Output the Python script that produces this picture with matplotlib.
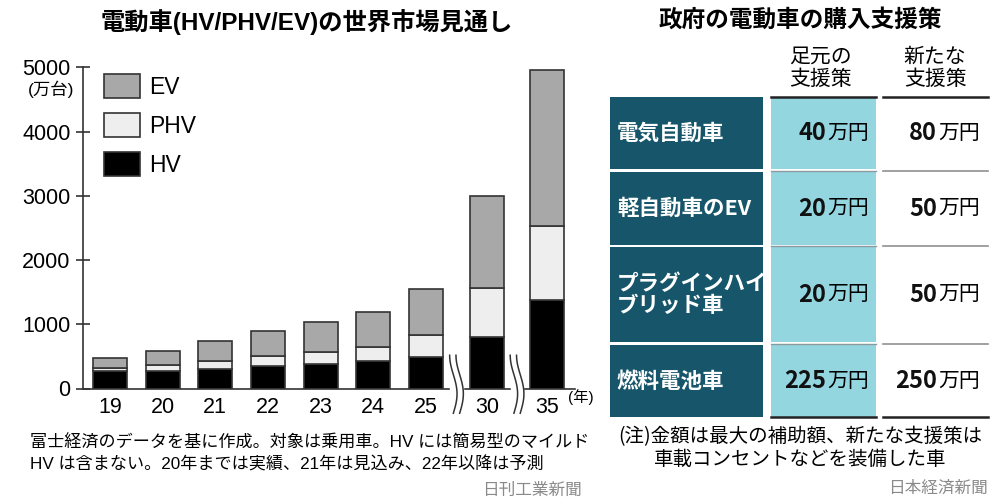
import numpy as np
import matplotlib
matplotlib.use("Agg")
from matplotlib import pyplot as plt
from matplotlib.patches import Rectangle

# 欧文はHelvetica風、和文はNotoで補う
plt.rcParams['font.family'] = ['Liberation Sans', 'Noto Sans CJK JP']
JP = ['Noto Sans CJK JP', 'DejaVu Sans']

# グラフのデータ(万台)
years = ['19', '20', '21', '22', '23', '24', '25', '30', '35']
hv = [265, 274, 311, 358, 389, 435, 492, 803, 1373]
phv = [50, 88, 124, 144, 176, 212, 342, 757, 1151]
ev = [161, 229, 305, 394, 471, 550, 721, 1431, 2437]

# 表のデータ(万円)
row_labels = ['電気自動車', '軽自動車のEV', 'プラグインハイ\nブリッド車', '燃料電池車']
current_aid = [40, 20, 20, 225]
new_aid = [80, 50, 50, 250]
col_headers = ['足元の\n支援策', '新たな\n支援策']

fig = plt.figure(figsize=(10, 5), dpi=100)

# 棒グラフ
ax = fig.add_axes([0.083, 0.223, 0.492, 0.642])
x = np.arange(len(years)) + np.array([0, 0, 0, 0, 0, 0, 0, 0.16, 0.30])
w = 0.645
edge = dict(edgecolor='#333333', linewidth=1.2)
b_hv = ax.bar(x, hv, w, color='black', label='HV', **edge)
b_phv = ax.bar(x, phv, w, bottom=hv, color='#eeeeee', label='PHV', **edge)
bot = np.array(hv) + np.array(phv)
b_ev = ax.bar(x, ev, w, bottom=bot, color='#a8a8a8', label='EV', **edge)

ax.set_xlim(-0.512, 8.83)
ax.set_ylim(0, 5000)
ax.set_xticks(x)
ax.set_xticklabels(years, fontsize=15.5)
ax.set_yticks([0, 1000, 2000, 3000, 4000, 5000])
ax.tick_params(axis='x', length=0, pad=6)
ax.tick_params(axis='y', direction='inout', length=10, width=1.2, colors='#333333',
               labelcolor='black', labelsize=15.5, pad=4)
for s in ['top', 'right']:
    ax.spines[s].set_visible(False)
for s in ['left', 'bottom']:
    ax.spines[s].set_color('#333333')
    ax.spines[s].set_linewidth(1.2)

# 省略記号(波線)
t = np.linspace(0, 1, 50)
yy = 518 - t * 903
for xm in [(x[6] + x[7]) / 2, (x[7] + x[8]) / 2]:
    ax.add_patch(Rectangle((xm - 0.12, -60), 0.24, 120, color='white', clip_on=False, zorder=4))
    for off in [-0.06, 0.06]:
        xx = xm + off + 0.07 * np.sin(1.5 * np.pi * t - 0.5 * np.pi)
        ax.plot(xx, yy, color='#333333', lw=1.1, clip_on=False, zorder=5)

ax.legend(handles=[b_ev, b_phv, b_hv], loc='upper left', bbox_to_anchor=(0.104, 1 - 74 / 500),
          bbox_transform=fig.transFigure, frameon=False, fontsize=16.5, borderpad=0,
          borderaxespad=0, handlelength=1.55, handleheight=1.25, labelspacing=0.62,
          handletextpad=0.4)

# 文字と表は全体を覆う軸に描く(1単位=1ピクセル)
tx = fig.add_axes([0, 0, 1, 1])
tx.set_xlim(0, 1000)
tx.set_ylim(500, 0)
tx.axis('off')

tx.text(307, 22, '電動車(HV/PHV/EV)の世界市場見通し', fontsize=17.5, fontweight='bold',
        ha='center', va='center')
tx.text(51, 89, '(万台)', fontsize=12.5, ha='center', va='center')
tx.text(581, 397, '(年)', fontsize=11, ha='center', va='center')
tx.text(30, 443, '富士経済のデータを基に作成。対象は乗用車。HV には簡易型のマイルド',
        fontsize=12.3, ha='left', va='center')
tx.text(30, 464, 'HV は含まない。20年までは実績、21年は見込み、22年以降は予測',
        fontsize=12.3, ha='left', va='center')
tx.text(582, 490, '日刊工業新聞', fontsize=12, ha='right', va='center', color='#8a8a8a')

# 表
tx.text(800, 20, '政府の電動車の購入支援策', fontsize=17, fontweight='bold',
        ha='center', va='center', family=JP)
tx.text(820, 68, col_headers[0], fontsize=15, ha='center', va='center', linespacing=1.05,
        family=JP)
tx.text(935, 68, col_headers[1], fontsize=15, ha='center', va='center', linespacing=1.05,
        family=JP)

dark = '#17566a'
cyan = '#94d6e0'
rows = [(97, 169), (172, 245), (247, 342), (345, 417)]
col1 = (610, 763)
col2 = (771, 876)
col3 = (883, 988)
for y0, y1 in rows:
    tx.add_patch(Rectangle((col1[0], y0), col1[1] - col1[0], y1 - y0, color=dark, lw=0))
    tx.add_patch(Rectangle((col2[0], y0), col2[1] - col2[0], y1 - y0, color=cyan, lw=0))
for y0, y1 in rows[1:]:
    tx.plot(col2, [y0 - 1.5, y0 - 1.5], color='#8a9aa0', lw=1)
    tx.plot(col3, [y0 - 1.5, y0 - 1.5], color='#909090', lw=1.2)
for yl in [97, 417]:
    tx.plot(col2, [yl, yl], color='#222222', lw=1.8)
    tx.plot(col3, [yl, yl], color='#222222', lw=1.8)

renderer = fig.canvas.get_renderer()


def value_text(xr, yc, num):
    unit = tx.text(xr, yc, '万円', fontsize=15, ha='right', va='center', family=JP)
    bb = unit.get_window_extent(renderer)
    tx.text(xr - bb.width - 1, yc, str(num), fontsize=17, fontweight='bold',
            ha='right', va='center', color='#111111', family=JP)


for (y0, y1), lab, a, b in zip(rows, row_labels, current_aid, new_aid):
    yc = (y0 + y1) / 2
    tx.text(617, yc, lab, fontsize=15.5, fontweight='bold', color='white',
            ha='left', va='center', linespacing=1.05, family=JP)
    value_text(869, yc, a)
    value_text(980, yc, b)

tx.text(800, 437, '(注)金額は最大の補助額、新たな支援策は', fontsize=14, ha='center', va='center',
        family=JP)
tx.text(800, 459, '車載コンセントなどを装備した車', fontsize=14, ha='center', va='center',
        family=JP)
tx.text(988, 488, '日本経済新聞', fontsize=12, ha='right', va='center', color='#8a8a8a',
        family=JP)

fig.savefig('out.png', dpi=100, facecolor='white')
